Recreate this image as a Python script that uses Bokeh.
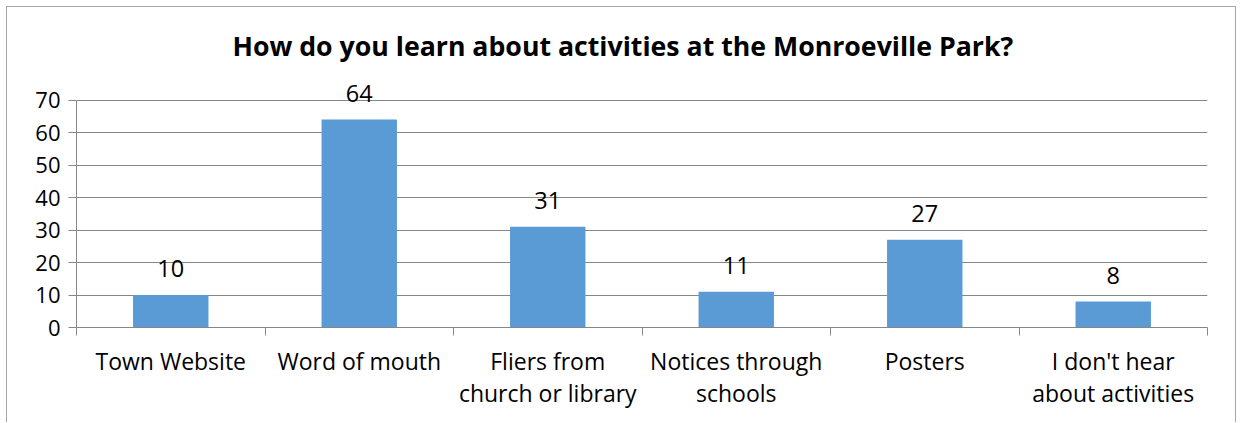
import numpy as np
from bokeh.plotting import figure
from bokeh.models import Range1d, FixedTicker, ColumnDataSource, LabelSet
from bokeh.core.properties import value
from bokeh.embed import file_html
from bokeh.resources import INLINE

categories = ["Town Website", "Word of mouth", "Fliers from\nchurch or library",
              "Notices through\nschools", "Posters", "I don't hear\nabout activities"]
counts = [10, 64, 31, 11, 27, 8]
y_ticks = [0, 10, 20, 30, 40, 50, 60, 70]
title_text = "How do you learn about activities at the Monroeville Park?"

FONT = "Open Sans"
GRID = "#868686"
BORDER = "1px solid #a6a6a6"

pos = np.arange(len(categories)) + 0.5
src = ColumnDataSource(dict(x=pos, top=counts, lab=[str(v) for v in counts]))

# headroom above the top tick so the "64" label is not clipped
p = figure(width=1230, height=416, output_backend="svg", toolbar_location=None,
           x_range=Range1d(0, len(categories)), y_range=Range1d(0, 76),
           min_border_left=69, min_border_right=30, min_border_top=73, min_border_bottom=96,
           title=title_text)
p.styles = {"border-top": BORDER, "border-left": BORDER, "border-right": BORDER,
            "margin-left": "6px", "margin-top": "6px"}
p.outline_line_color = None
p.background_fill_color = "white"
p.border_fill_color = "white"

p.title.align = "left"
p.title.text_font = FONT
p.title.text_font_style = "bold"
p.title.text_font_size = "26.7px"
p.title.text_color = "black"
p.title.standoff = 33
p.title.offset = 156

p.vbar(x="x", top="top", width=0.4, source=src, color="#5B9BD5", line_color=None)
labels = LabelSet(x="x", y="top", text="lab", source=src, text_align="center",
                  text_baseline="alphabetic", y_offset=18, text_font=value(FONT),
                  text_font_size="23.5px", text_color="black")
p.add_layout(labels)

# y axis
p.yaxis.ticker = FixedTicker(ticks=y_ticks)
p.yaxis.bounds = (min(y_ticks), max(y_ticks))
p.yaxis.axis_line_color = GRID
p.yaxis.major_tick_line_color = GRID
p.yaxis.major_tick_in = 0
p.yaxis.major_tick_out = 8
p.yaxis.minor_tick_line_color = None
p.yaxis.major_label_text_font = FONT
p.yaxis.major_label_text_font_size = "22px"
p.yaxis.major_label_text_color = "black"
p.yaxis.major_label_standoff = 8

# x axis
p.xaxis.ticker = FixedTicker(ticks=list(pos), minor_ticks=list(range(len(categories) + 1)))
p.xaxis.major_label_overrides = {float(x): c for x, c in zip(pos, categories)}
p.xaxis.axis_line_color = GRID
p.xaxis.major_tick_line_color = None
p.xaxis.minor_tick_line_color = GRID
p.xaxis.minor_tick_in = 0
p.xaxis.minor_tick_out = 8
p.xaxis.major_label_text_font = FONT
p.xaxis.major_label_text_font_size = "23px"
p.xaxis.major_label_text_color = "black"
p.xaxis.major_label_text_line_height = 1.0
p.xaxis.major_label_standoff = 9

p.xgrid.grid_line_color = None
p.ygrid.ticker = FixedTicker(ticks=y_ticks)
p.ygrid.grid_line_color = GRID

open("out.html", "w").write(file_html(p, INLINE))
